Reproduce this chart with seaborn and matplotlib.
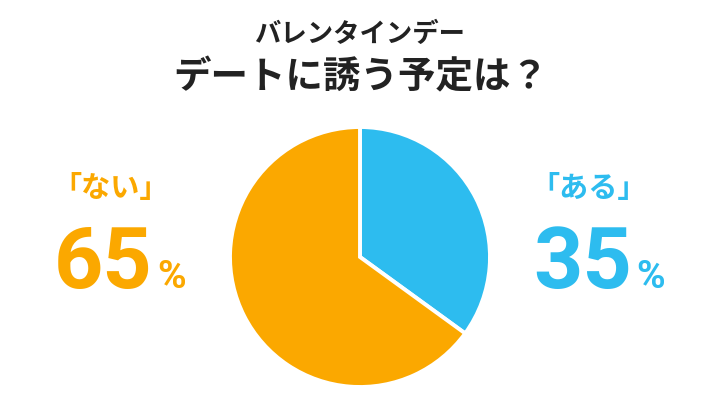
import matplotlib
matplotlib.use("Agg")
import matplotlib.pyplot as plt
import seaborn as sns

categories = ["ある", "ない"]
values = [35, 65]
colors = ["#2DBCEF", "#FBA800"]
title_line1 = "バレンタインデー"
title_line2 = "デートに誘う予定は？"

sns.set_theme(style="white")
plt.rcParams['font.family'] = ['Noto Sans CJK JP', 'DejaVu Sans']

W, H = 720, 415
fig = plt.figure(figsize=(W / 100, H / 100), dpi=100)
fig.patch.set_facecolor("white")

cx, cy, r = 360, 257, 130
ax = fig.add_axes([(cx - r) / W, (H - cy - r) / H, 2 * r / W, 2 * r / H])
ax.pie(values, colors=colors, startangle=90, counterclock=False,
       wedgeprops=dict(edgecolor="white", linewidth=2.8))
ax.set_xlim(-1.0, 1.0)
ax.set_ylim(-1.0, 1.0)
ax.set_aspect("equal")
ax.axis("off")

def fy(y):
    return 1 - y / H

fig.text(360 / W, fy(34), title_line1, ha="center", va="center",
         fontsize=19, fontweight="bold", color="#222222")
fig.text(361 / W, fy(77), title_line2, ha="center", va="center",
         fontsize=27, fontweight="bold", color="#222222")

num_font = ['Roboto', 'DejaVu Sans']

def side_label(xc, xnum, xpct, label, val, color):
    fig.text(xc / W, fy(188), f"「{label}」", ha="center", va="center",
             fontsize=21, fontweight="bold", color=color)
    fig.text(xnum / W, fy(288), f"{val}", ha="left", va="baseline",
             fontsize=62, fontweight="bold", color=color, family=num_font)
    fig.text(xpct / W, fy(288), "%", ha="left", va="baseline",
             fontsize=28, fontweight="bold", color=color, family=num_font)

side_label(111, 54, 157, categories[1], values[1], colors[1])
side_label(589, 533, 636, categories[0], values[0], colors[0])

fig.savefig("out.png", dpi=100, facecolor="white")
